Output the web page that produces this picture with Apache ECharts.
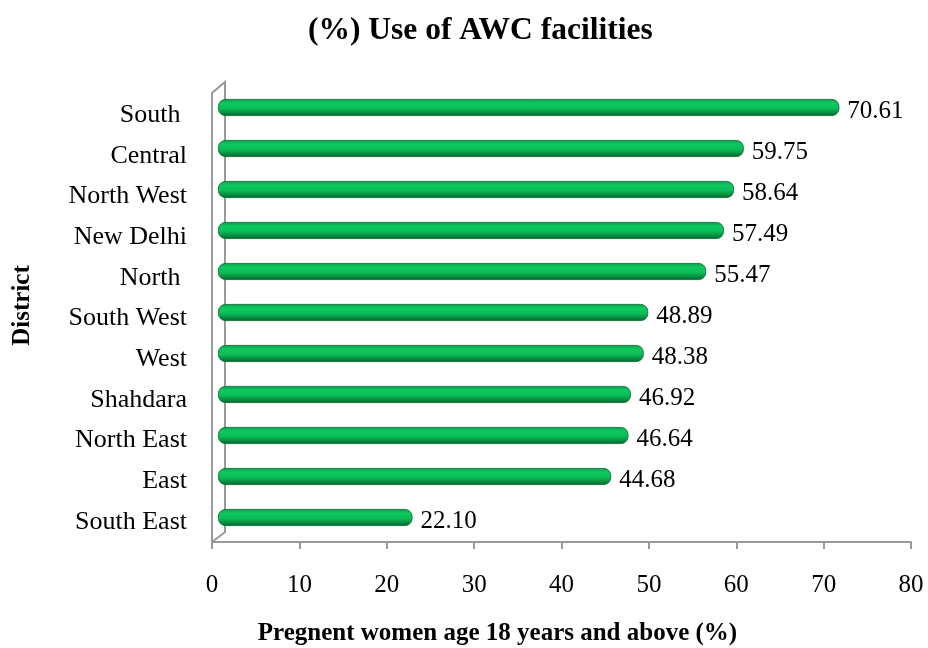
<!DOCTYPE html>
<html>
<head>
<meta charset="utf-8">
<script src="https://cdn.jsdelivr.net/npm/echarts@6/dist/echarts.min.js"></script>
<style>
  html, body { margin: 0; padding: 0; background: #fff; }
  #chart { width: 928px; height: 648px; }
</style>
</head>
<body>
<div id="chart"></div>
<script>
// districts, top to bottom
const districts = ['South ', 'Central', 'North West', 'New Delhi', 'North ', 'South West', 'West', 'Shahdara', 'North East', 'East', 'South East'];
const useAwc = [70.61, 59.75, 58.64, 57.49, 55.47, 48.89, 48.38, 46.92, 46.64, 44.68, 22.10];
const xTicks = [0, 10, 20, 30, 40, 50, 60, 70, 80];

const serif = '"Liberation Serif", "Times New Roman", serif';
const grey = '#9a9a9a';

const chart = echarts.init(document.getElementById('chart'));

chart.setOption({
    animation: false,
    title: {
        text: '(%) Use of AWC facilities',
        left: 303,
        top: 10,
        textStyle: { fontFamily: serif, fontSize: 31.5, fontWeight: 'bold', color: '#000' }
    },
    grid: [
        // front plane: visible axes
        { left: 212, right: 17, top: 95, bottom: 106, outerBoundsMode: 'none' },
        // back plane: bars
        { left: 218, right: 6, top: 87, bottom: 110, outerBoundsMode: 'none' }
    ],
    xAxis: [
        {
            gridIndex: 0,
            type: 'value',
            min: xTicks[0],
            max: xTicks[xTicks.length - 1],
            interval: 10,
            splitLine: { show: false },
            axisLine: { show: true, lineStyle: { color: grey, width: 2 } },
            axisTick: { show: true, length: 7, lineStyle: { color: grey, width: 2 } },
            axisLabel: { fontFamily: serif, fontSize: 25, color: '#000', margin: 31 },
            name: 'Pregnent women age 18 years and above (%)',
            nameLocation: 'middle',
            nameGap: 79,
            nameTextStyle: {
                fontFamily: serif, fontSize: 25, fontWeight: 'bold', color: '#000',
                padding: [0, 128, 0, 0]
            }
        },
        {
            gridIndex: 1,
            type: 'value',
            min: 0,
            max: 80,
            show: false
        }
    ],
    yAxis: [
        {
            gridIndex: 0,
            type: 'category',
            inverse: true,
            data: districts,
            axisLine: { show: false },
            axisTick: { show: false },
            axisLabel: { fontFamily: serif, fontSize: 26, color: '#000', margin: 25 },
            name: 'District',
            nameLocation: 'middle',
            nameGap: 177,
            nameRotate: 90,
            nameTextStyle: {
                fontFamily: serif, fontSize: 25, fontWeight: 'bold', color: '#000',
                padding: [0, 0, 0, 26]
            }
        },
        {
            gridIndex: 1,
            type: 'category',
            inverse: true,
            data: districts,
            show: false
        }
    ],
    series: [
        {
            type: 'bar',
            xAxisIndex: 1,
            yAxisIndex: 1,
            data: useAwc,
            barWidth: 17,
            z: 5,
            itemStyle: {
                borderRadius: 7,
                borderColor: '#05652e',
                borderWidth: 0.8,
                color: new echarts.graphic.LinearGradient(0, 0, 0, 1, [
                    { offset: 0, color: '#0a9f4a' },
                    { offset: 0.25, color: '#0ec860' },
                    { offset: 0.55, color: '#0bbd58' },
                    { offset: 0.8, color: '#078f40' },
                    { offset: 1, color: '#04602b' }
                ])
            },
            label: {
                show: true,
                position: 'right',
                distance: 8,
                offset: [0, 4],
                formatter: p => p.value.toFixed(2),
                fontFamily: serif,
                fontSize: 25,
                color: '#000'
            }
        }
    ],
    graphic: [
        {
            // side wall of the 3D plot area
            type: 'polyline',
            silent: true,
            z: 0,
            shape: { points: [[212, 542], [212, 93], [225, 82], [225, 532], [212, 542]] },
            style: { stroke: grey, lineWidth: 2, fill: 'none' }
        }
    ]
});
</script>
</body>
</html>
